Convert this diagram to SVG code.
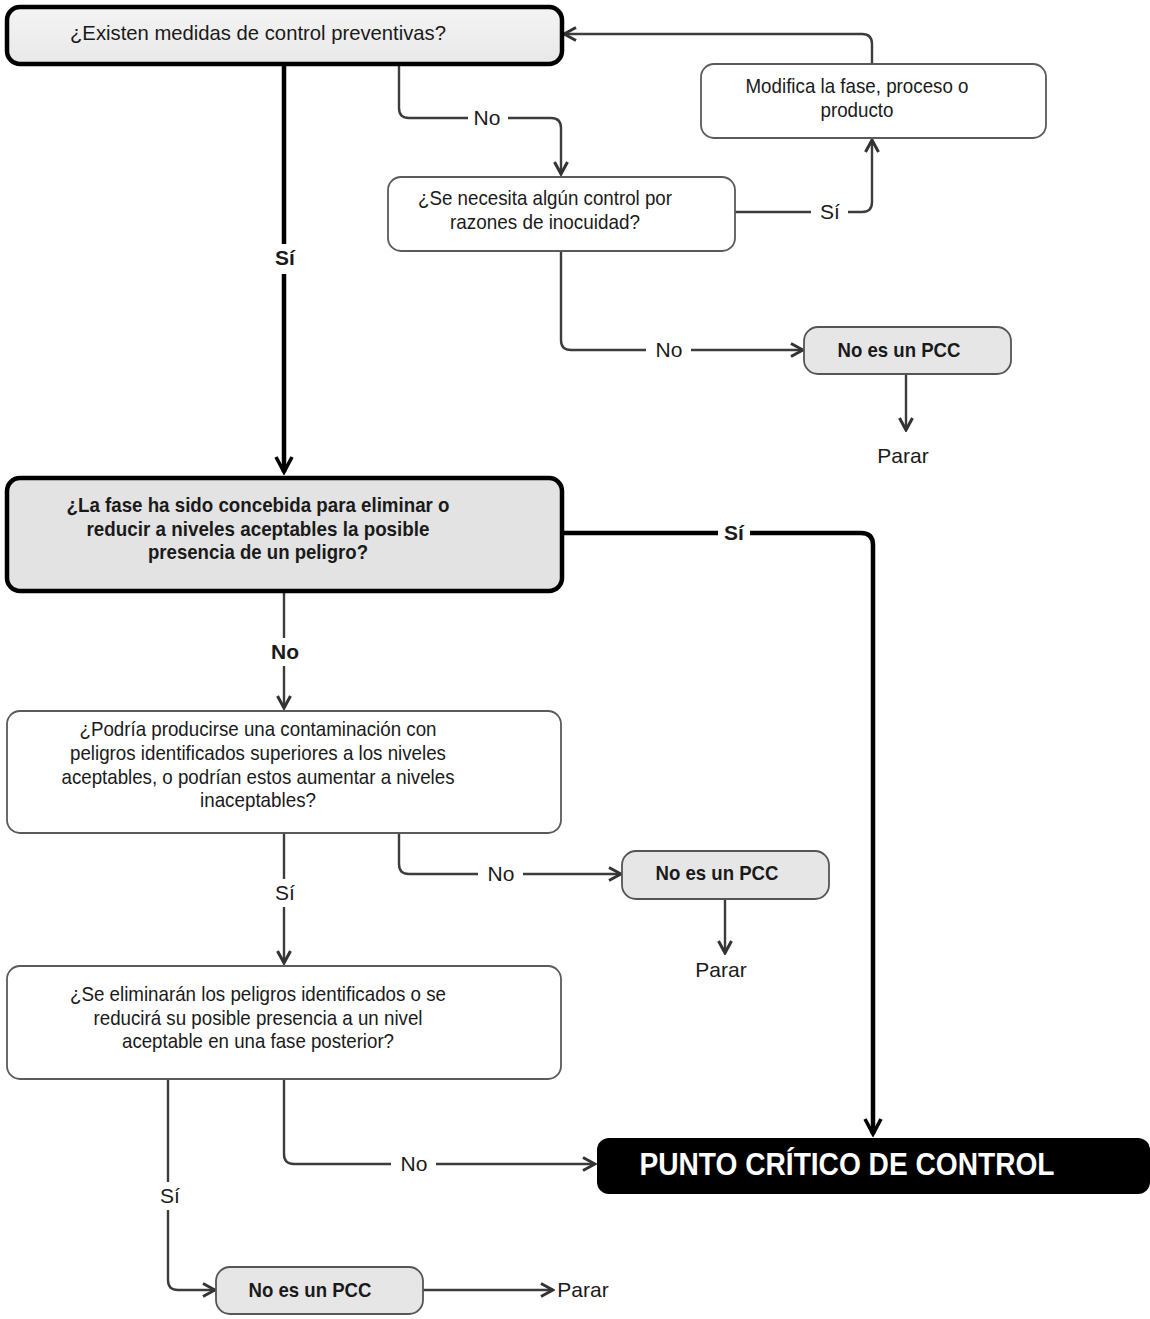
<svg xmlns="http://www.w3.org/2000/svg" width="1150" height="1319" viewBox="0 0 1150 1319">
<defs>
<marker id="ah" viewBox="0 0 16 16" refX="14" refY="8" markerWidth="16" markerHeight="16" markerUnits="userSpaceOnUse" orient="auto">
<path d="M2,1.5 L14,8 L2,14.5" fill="none" stroke="#333" stroke-width="3" stroke-linejoin="miter"/>
</marker>
<marker id="ahk" viewBox="0 0 20 20" refX="17" refY="10" markerWidth="20" markerHeight="20" markerUnits="userSpaceOnUse" orient="auto">
<path d="M2,2 L17,10 L2,18" fill="none" stroke="#000" stroke-width="3.6"/>
</marker>
<linearGradient id="g1" x1="0" y1="0" x2="0" y2="1">
<stop offset="0" stop-color="#f4f4f4"/>
<stop offset="1" stop-color="#e8e8e8"/>
</linearGradient>
</defs>
<style>
text{font-family:"Liberation Sans Narrow","Liberation Sans",Arial,sans-serif;fill:#1a1a1a;text-anchor:middle;font-size:21px}
.b{font-weight:bold}
.thick{fill:none;stroke:#000;stroke-width:4.5}
.thin{fill:none;stroke:#3c3c3c;stroke-width:2.4}
.bx{fill:#fff;stroke:#5a5a5a;stroke-width:1.8}
.gr{fill:#e6e6e6;stroke:#555;stroke-width:1.8}
.bk{fill:url(#g1);stroke:#000;stroke-width:4.5}
.bk2{fill:#e3e3e3;stroke:#000;stroke-width:4.5}
.lb{fill:#fff}
</style>
<rect width="1150" height="1319" fill="#fff"/>
<g id="connectors">
<path class="thick" d="M284,64 V472" marker-end="url(#ahk)"/>
<path class="thin" d="M399,64 V108 Q399,118 409,118 H551 Q561,118 561,128 V174" marker-end="url(#ah)"/>
<path class="thin" d="M872,64 V44 Q872,34 862,34 H564" marker-end="url(#ah)"/>
<path class="thin" d="M735,212 H862 Q872,212 872,202 V140" marker-end="url(#ah)"/>
<path class="thin" d="M561,251 V340 Q561,350 571,350 H803" marker-end="url(#ah)"/>
<path class="thin" d="M906,374 V430" marker-end="url(#ah)"/>
<path class="thick" d="M562,533 H861 Q873,533 873,545 V1134" marker-end="url(#ahk)"/>
<path class="thin" d="M284,591 V708" marker-end="url(#ah)"/>
<path class="thin" d="M284,833 V963" marker-end="url(#ah)"/>
<path class="thin" d="M399,833 V864 Q399,874 409,874 H621" marker-end="url(#ah)"/>
<path class="thin" d="M725,899 V953" marker-end="url(#ah)"/>
<path class="thin" d="M284,1079 V1154 Q284,1164 294,1164 H595" marker-end="url(#ah)"/>
<path class="thin" d="M168,1079 V1280 Q168,1290 178,1290 H215" marker-end="url(#ah)"/>
<path class="thin" d="M423,1290 H553" marker-end="url(#ah)"/>
<rect class="lb" x="272" y="244" width="26" height="30"/>
<text class="b" x="285" y="265">Sí</text>
<rect class="lb" x="468" y="106" width="40" height="26"/>
<text x="487" y="125">No</text>
<rect class="lb" x="811" y="198" width="37" height="28"/>
<text x="830" y="219">Sí</text>
<rect class="lb" x="646" y="338" width="45" height="26"/>
<text x="669" y="357">No</text>
<rect class="lb" x="718" y="520" width="32" height="28"/>
<text class="b" x="734" y="540">Sí</text>
<rect class="lb" x="270" y="638" width="30" height="28"/>
<text class="b" x="285" y="659">No</text>
<rect class="lb" x="272" y="879" width="26" height="28"/>
<text x="285" y="900">Sí</text>
<rect class="lb" x="478" y="862" width="45" height="26"/>
<text x="501" y="881">No</text>
<rect class="lb" x="391" y="1152" width="45" height="26"/>
<text x="414" y="1171">No</text>
<rect class="lb" x="157" y="1182" width="26" height="28"/>
<text x="170" y="1203">Sí</text>
<text x="903" y="463">Parar</text>
<text x="721" y="977">Parar</text>
<text x="583" y="1297">Parar</text>
</g>
<g id="n1">
<rect class="bk" x="7" y="7" width="555" height="57" rx="13"/>
<text x="258" y="40" textLength="376" lengthAdjust="spacingAndGlyphs">¿Existen medidas de control preventivas?</text>
</g>
<g id="n2">
<rect class="bx" x="701" y="64" width="345" height="74" rx="13"/>
<text x="857" y="93" textLength="223" lengthAdjust="spacingAndGlyphs">Modifica la fase, proceso o</text>
<text x="857" y="117" textLength="73" lengthAdjust="spacingAndGlyphs">producto</text>
</g>
<g id="n3">
<rect class="bx" x="388" y="177" width="347" height="74" rx="13"/>
<text x="545" y="205" textLength="254" lengthAdjust="spacingAndGlyphs">¿Se necesita algún control por</text>
<text x="545" y="229" textLength="190" lengthAdjust="spacingAndGlyphs">razones de inocuidad?</text>
</g>
<g id="n4">
<rect class="gr" x="804" y="327" width="207" height="47" rx="14"/>
<text class="b" x="899" y="357" textLength="123" lengthAdjust="spacingAndGlyphs">No es un PCC</text>
</g>
<g id="n5">
<rect class="bk2" x="7" y="478" width="555" height="113" rx="13"/>
<text class="b" x="258" y="512" textLength="383" lengthAdjust="spacingAndGlyphs">¿La fase ha sido concebida para eliminar o</text>
<text class="b" x="258" y="536" textLength="343" lengthAdjust="spacingAndGlyphs">reducir a niveles aceptables la posible</text>
<text class="b" x="258" y="559" textLength="220" lengthAdjust="spacingAndGlyphs">presencia de un peligro?</text>
</g>
<g id="n6">
<rect class="bx" x="7" y="711" width="554" height="122" rx="13"/>
<text x="258" y="736" textLength="357" lengthAdjust="spacingAndGlyphs">¿Podría producirse una contaminación con</text>
<text x="258" y="760" textLength="376" lengthAdjust="spacingAndGlyphs">peligros identificados superiores a los niveles</text>
<text x="258" y="784" textLength="393" lengthAdjust="spacingAndGlyphs">aceptables, o podrían estos aumentar a niveles</text>
<text x="258" y="807" textLength="116" lengthAdjust="spacingAndGlyphs">inaceptables?</text>
</g>
<g id="n7">
<rect class="gr" x="622" y="851" width="207" height="48" rx="14"/>
<text class="b" x="717" y="880" textLength="123" lengthAdjust="spacingAndGlyphs">No es un PCC</text>
</g>
<g id="n8">
<rect class="bx" x="7" y="966" width="554" height="113" rx="13"/>
<text x="258" y="1001" textLength="376" lengthAdjust="spacingAndGlyphs">¿Se eliminarán los peligros identificados o se</text>
<text x="258" y="1025" textLength="329" lengthAdjust="spacingAndGlyphs">reducirá su posible presencia a un nivel</text>
<text x="258" y="1048" textLength="272" lengthAdjust="spacingAndGlyphs">aceptable en una fase posterior?</text>
</g>
<g id="n9">
<rect x="597" y="1138" width="553" height="56" rx="12" fill="#000"/>
<text class="b" x="847" y="1175" style="fill:#fff;font-size:31px" textLength="415" lengthAdjust="spacingAndGlyphs">PUNTO CRÍTICO DE CONTROL</text>
</g>
<g id="n10">
<rect class="gr" x="216" y="1267" width="207" height="47" rx="14"/>
<text class="b" x="310" y="1297" textLength="123" lengthAdjust="spacingAndGlyphs">No es un PCC</text>
</g>
</svg>
